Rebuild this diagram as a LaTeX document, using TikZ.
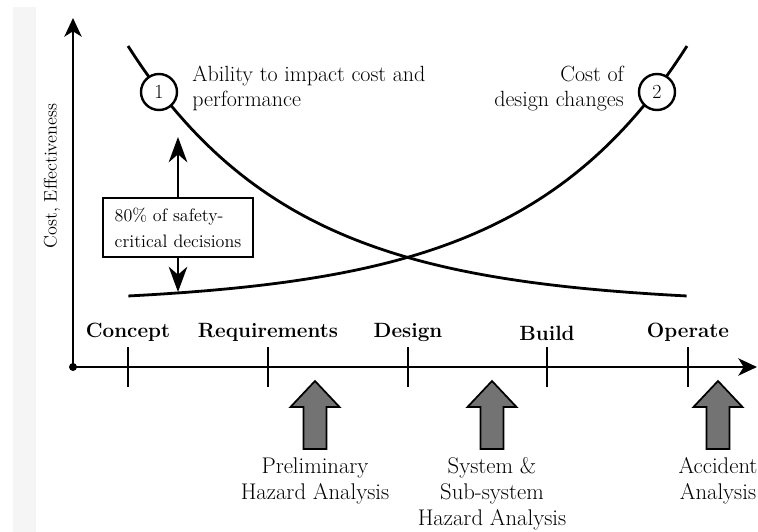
\documentclass[tikz,border=0pt]{standalone}
\usetikzlibrary{arrows.meta}

\begin{document}
\begin{tikzpicture}[x=0.75pt, y=-0.75pt,
  font=\fontsize{16.5}{18.75}\selectfont,
  axis/.style={line width=1.7pt, -{Stealth[length=14pt, width=13pt, inset=4pt]}},
  curve/.style={line width=2.1pt},
  tick/.style={line width=1.4pt},
  num/.style={draw, circle, line width=1.8pt, fill=white, minimum size=27pt, inner sep=0pt, font=\fontsize{15}{17}\selectfont},
  phase/.style={font=\fontsize{15.5}{18}\selectfont\bfseries, anchor=base},
  note/.style={align=center, inner sep=0pt, anchor=north, font=\fontsize{17}{19.5}\selectfont},
  crit/.style={draw, line width=1.2pt, align=left, minimum width=112.5pt, minimum height=44pt, font=\fontsize{13.5}{19.5}\selectfont},
  pointer/.style={line width=1.3pt, -{Stealth[length=19pt, width=14pt, inset=6pt]}},
  hazard/.style={draw, line width=1.3pt, fill=black!55, line join=miter}]

\useasboundingbox (0,0) rectangle (758,532);
\fill[black!4] (13,7) rectangle (36,532);

% axes
\coordinate (O) at (73,367);
\coordinate (ytop) at (73,18);
\coordinate (xend) at (757,367);
\draw[axis] (O) -- (ytop);
\draw[axis] (O) -- (xend);
\fill (O) circle[radius=3pt];
\node[rotate=90, font=\fontsize{13.6}{16}\selectfont] (ylab) at (52,176) {Cost, Effectiveness};

% phases
\foreach \x/\name/\lab/\y in {128/concept/Concept/337, 268/req/Requirements/337, 408/design/Design/337, 547/build/Build/340, 688/operate/Operate/337} {
  \draw[tick] (\x,347) -- (\x,387);
  \node[phase] (\name) at (\x,\y) {\lab};
}

% curves
\draw[curve] plot[domain=0:1, samples=80] ({128+559*\x}, {296-250*(exp(-3.4*\x)-exp(-3.4))/(1-exp(-3.4))});
\draw[curve] plot[domain=0:1, samples=80] ({687-559*\x}, {296-250*(exp(-3.4*\x)-exp(-3.4))/(1-exp(-3.4))});
\node[num] (n1) at (159,92) {1};
\node[num] (n2) at (657,92) {2};
\node[align=left, inner sep=0pt, anchor=north west] (ability) at (192,66) {Ability to impact cost and\\performance};
\node[align=right, inner sep=0pt, anchor=north east] (costof) at (624,66) {Cost of\\design changes};

% 80% box
\node[crit] (box) at (178,227.5) {80\% of safety-\\critical decisions};
\coordinate (up) at (178,137);
\coordinate (down) at (178,292);
\draw[pointer] (box.north) -- (up);
\draw[pointer] (box.south) -- (down);

% analyses
\foreach \x in {315,492,718}
  \draw[hazard] (\x,381) -- (\x+24.5,407) -- (\x+11.5,407) -- (\x+11.5,449) -- (\x-11.5,449) -- (\x-11.5,407) -- (\x-24.5,407) -- cycle;
\node[note] (pha) at (315,457) {Preliminary\\Hazard Analysis};
\node[note] (ssha) at (492,457) {System \&\\Sub-system\\Hazard Analysis};
\node[note] (aa) at (718,457) {Accident\\Analysis};

\end{tikzpicture}
\end{document}
